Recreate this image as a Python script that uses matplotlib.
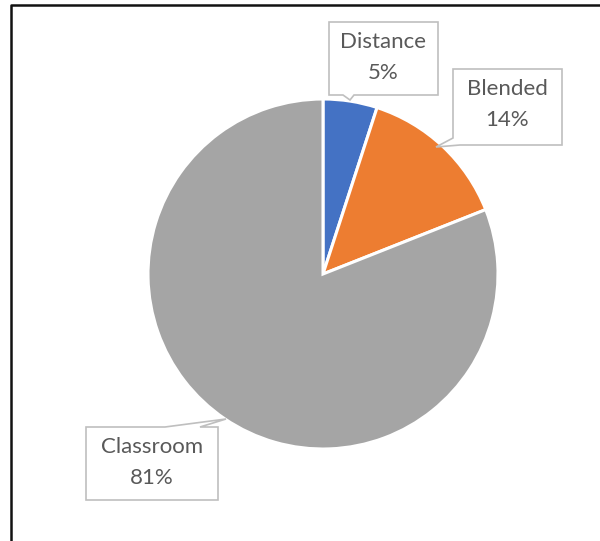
import matplotlib.pyplot as plt
from matplotlib.patches import Polygon

categories = ["Distance", "Blended", "Classroom"]
shares = [5, 14, 81]
colors = ["#4472C4", "#ED7D31", "#A5A5A5"]

W, H = 600, 541


def py(y):
    # image rows -> data y
    return H - y


fig = plt.figure(figsize=(W / 100, H / 100), dpi=100)
ax = fig.add_axes([0, 0, 1, 1])

# outer frame (left and top edges visible)
ax.plot([11, 11, W + 5], [py(H + 5), py(4.5), py(4.5)],
        color="#111111", lw=1.8, solid_capstyle="butt")

ax.pie(
    shares,
    colors=colors,
    startangle=90,
    counterclock=False,
    center=(323, py(274)),
    radius=175,
    wedgeprops=dict(edgecolor="white", linewidth=2.2),
    frame=True,
)
ax.set_xlim(0, W)
ax.set_ylim(0, H)
ax.set_aspect("equal")
ax.axis("off")

# callout boxes: (left, top, right, bottom) in image px, plus pointer
boxes = {
    "Distance": dict(rect=(329, 22, 438, 95),
                     wedge=[(343, 95), (350, 100), (354, 95)], side="bottom"),
    "Blended": dict(rect=(453, 69, 562, 145),
                    wedge=[(453, 138), (436, 147), (460, 145)], side="corner"),
    "Classroom": dict(rect=(86, 427, 218, 500),
                      wedge=[(165, 427), (226, 419), (200, 427)], side="top"),
}

for name, pct in zip(categories, shares):
    b = boxes[name]
    l, t, r, bt = b["rect"]
    w = b["wedge"]
    if b["side"] == "bottom":
        pts = [(l, t), (r, t), (r, bt), w[2], w[1], w[0], (l, bt)]
    elif b["side"] == "top":
        pts = [(l, t), w[0], w[1], w[2], (r, t), (r, bt), (l, bt)]
    else:
        pts = [(l, t), (r, t), (r, bt), w[2], w[1], w[0]]
    poly = Polygon([(x, py(y)) for x, y in pts], closed=True,
                   facecolor="white", edgecolor="#BFBFBF", lw=1.2, zorder=5)
    ax.add_patch(poly)
    cx = (l + r) / 2
    ax.text(cx, py(t + 20), name, ha="center", va="center",
            fontsize=16, color="#595959", family="Lato", zorder=6)
    ax.text(cx, py(t + 51), f"{pct}%", ha="center", va="center",
            fontsize=16, color="#595959", family="Lato", zorder=6)

fig.savefig("out.png", dpi=100)
